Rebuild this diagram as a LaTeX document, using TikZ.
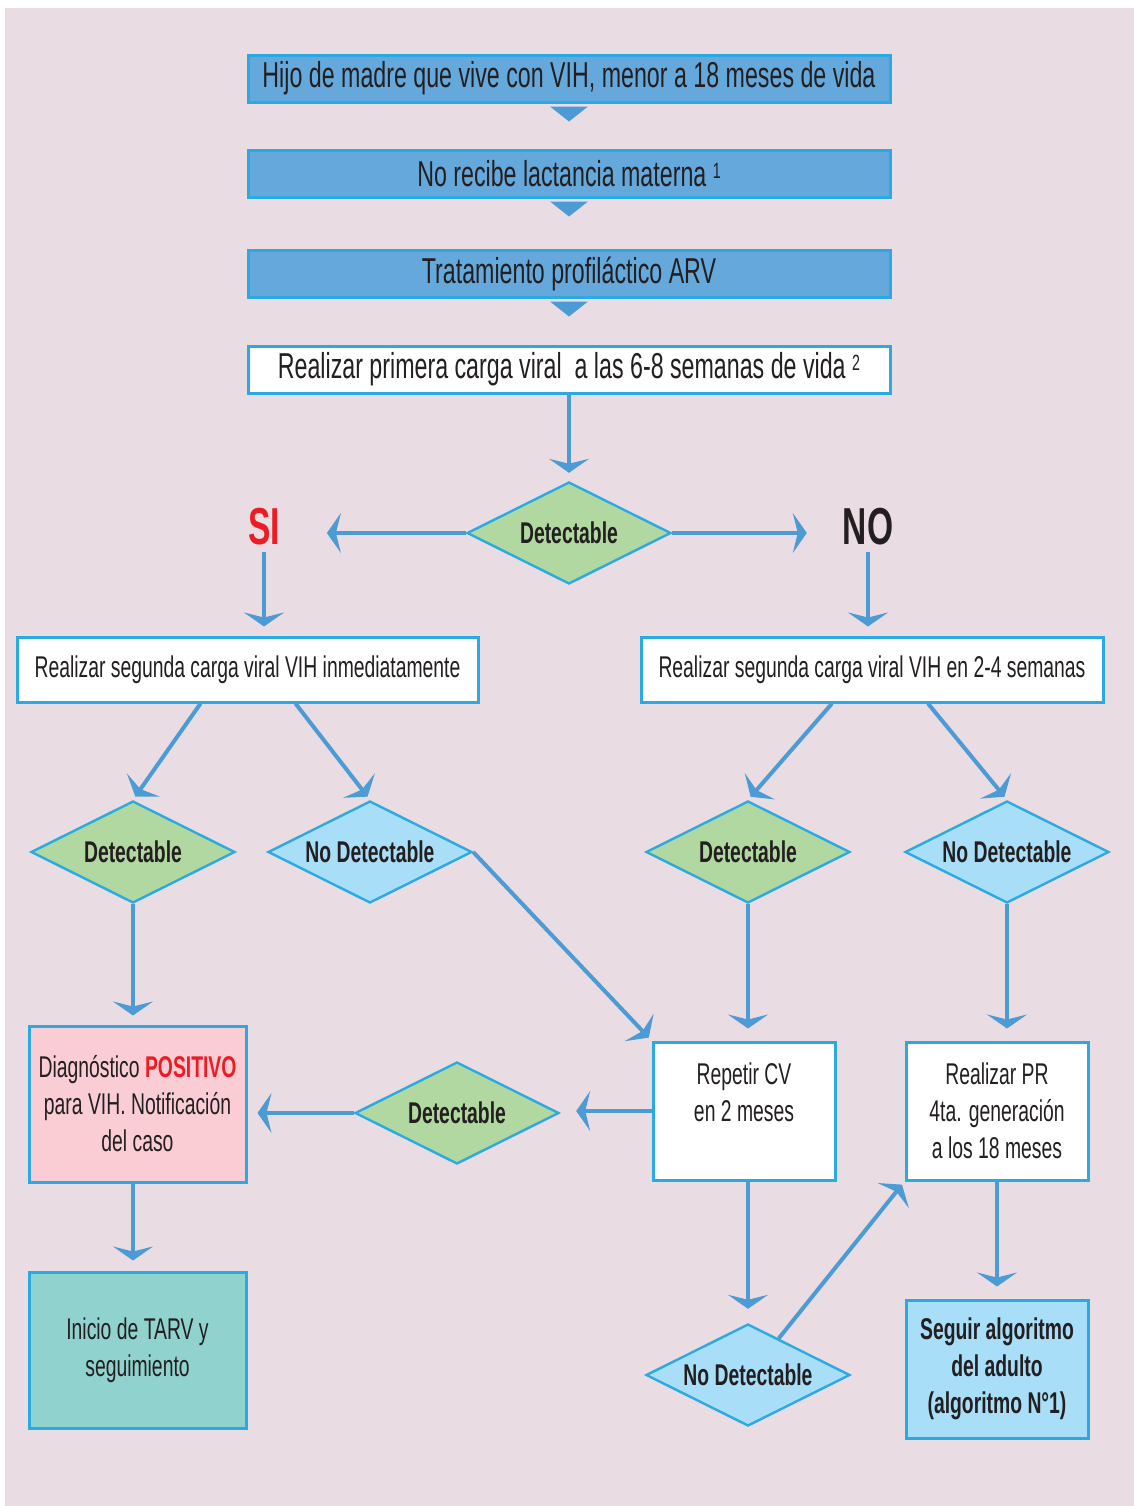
\documentclass[tikz,border=0pt]{standalone}
\usepackage{fontspec}
\setmainfont{Liberation Sans}[FakeStretch=0.645]
\usepackage{tikz}
\usetikzlibrary{arrows.meta, positioning, shapes.geometric, calc}
\definecolor{cbg}{HTML}{E9DCE3}
\definecolor{ctop}{HTML}{65A9DC}
\definecolor{cedge}{HTML}{2BAAE2}
\definecolor{carrow}{HTML}{4D9BD5}
\definecolor{cgreen}{HTML}{B1D8A0}
\definecolor{cblue}{HTML}{A8DEF7}
\definecolor{cpink}{HTML}{F9CDD3}
\definecolor{cteal}{HTML}{8FD2CE}
\definecolor{cred}{HTML}{ED1C24}
\definecolor{ctext}{HTML}{231F20}

\begin{document}
\begin{tikzpicture}[
    x=0.5pt, y=-0.5pt,
    font=\fontsize{15}{18.5}\selectfont,
    box/.style={rectangle, draw=cedge, line width=1.5pt, align=center,
                inner sep=0pt, text=ctext},
    topbox/.style={box, fill=ctop, minimum width=321pt, minimum height=23.5pt,
                   font=\fontsize{18}{20}\selectfont},
    smallbox/.style={box, minimum width=91pt, minimum height=69pt},
    sidebox/.style={box, minimum width=108.5pt, minimum height=78pt},
    decide/.style={diamond, draw=cedge, line width=1.2pt, aspect=2, inner sep=0pt,
                   minimum width=102pt, minimum height=51pt, text=ctext,
                   font=\bfseries\fontsize{15}{18}\selectfont},
    answer/.style={font=\bfseries\fontsize{26}{28}\selectfont},
    flow/.style={draw=carrow, line width=2pt,
                 -{Stealth[length=7pt, width=20pt, inset=2.5pt]}},
]
\useasboundingbox (0,0) rectangle (1134,1506);
\fill[cbg] (5,8) rectangle (1134,1506);

\node[topbox] (b1) at (569,78.5) {Hijo de madre que vive con VIH, menor a 18 meses de vida};
\node[topbox] (b2) at (569,173.5) {No recibe lactancia materna {\fontsize{11}{11}\selectfont\raisebox{4pt}{1}}};
\node[topbox] (b3) at (569,273.5) {Tratamiento profiláctico ARV};
\node[topbox, fill=white] (b4) at (569,369.5)
    {Realizar primera carga viral\ \ a las 6-8 semanas de vida {\fontsize{11}{11}\selectfont\raisebox{4pt}{2}}};

\foreach \n in {b1,b2,b3}
    \fill[carrow] ($(\n.south)+(-19,3)$) -- ++(38,0) -- ++(-19,15) -- cycle;

\node[decide, fill=cgreen] (d1) at (569,533) {Detectable};
\node[answer, text=cred] (si) at (264,527) {SI};
\node[answer, text=ctext] (no) at (868,527) {NO};

\node[box, fill=white, minimum width=230.5pt, minimum height=32.5pt] (b5) at (247.5,669.5)
    {Realizar segunda carga viral VIH inmediatamente};
\node[box, fill=white, minimum width=231pt, minimum height=32.5pt] (b6) at (872,669.5)
    {Realizar segunda carga viral VIH en 2-4 semanas};

\node[decide, fill=cgreen] (dl) at (133,852) {Detectable};
\node[decide, fill=cblue] (nl) at (370,852) {No Detectable};
\node[decide, fill=cgreen] (dr) at (748,852) {Detectable};
\node[decide, fill=cblue] (nr) at (1007,852) {No Detectable};

\node[sidebox, fill=cpink] (pos) at (137.5,1104)
    {Diagnóstico \textcolor{cred}{\bfseries POSITIVO}\\para VIH. Notificación\\del caso};
\node[sidebox, fill=cteal] (tarv) at (137.5,1350) {Inicio de TARV y\\seguimiento};
\node[decide, fill=cgreen] (dm) at (457,1113) {Detectable};
\node[smallbox, fill=white] (rep) at (744,1111) {Repetir CV\\en 2 meses\\\mbox{}};
\node[smallbox, fill=white] (pr) at (997,1111) {Realizar PR\\4ta. generación\\a los 18 meses};
\node[decide, fill=cblue] (nb) at (748,1375) {No Detectable};
\node[smallbox, fill=cblue, font=\bfseries\fontsize{15}{18.5}\selectfont] (adul) at (997,1369)
    {Seguir algoritmo\\del adulto\\(algoritmo N°1)};

\draw[flow, shorten >=4pt] (b4) -- (d1);
\draw[flow, shorten >=20pt] (d1.west) -- (d1.west -| si.east);
\draw[flow, shorten >=14.5pt] (d1.east) -- (d1.east -| no.west);
\draw[flow, shorten >=4.5pt] (si.south) -- (si.south |- b5.north);
\draw[flow, shorten >=4.5pt] (no.south) -- (no.south |- b6.north);
\draw[flow, shorten >=2pt] ($(b5.south)+(-47,0)$) -- (dl.north);
\draw[flow, shorten >=2pt] ($(b5.south)+(48,0)$) -- (nl.north);
\draw[flow, shorten >=2pt] ($(b6.south)+(-40,0)$) -- (dr.north);
\draw[flow, shorten >=2pt] ($(b6.south)+(56,0)$) -- (nr.north);
\draw[flow, shorten >=4.5pt] (dl.south) -- (dl.south |- pos.north);
\draw[flow, shorten >=2pt] (nl.east) -- (rep.north west);
\draw[flow, shorten >=6pt] (dr.south) -- (dr.south |- rep.north);
\draw[flow, shorten >=6pt] (nr.south) -- (nr.south |- pr.north);
\draw[flow, shorten >=8pt] (rep.west) -- (rep.west -| dm.east);
\draw[flow, shorten >=5pt] (dm.west) -- (dm.west -| pos.east);
\draw[flow, shorten >=5pt] (dl.south |- pos.south) -- (dl.south |- tarv.north);
\draw[flow, shorten >=7pt] (nb.north |- rep.south) -- (nb.north);
\draw[flow, shorten >=2pt] (nb.50) -- (pr.south west);
\draw[flow, shorten >=6pt] (pr.south) -- (adul.north);
\end{tikzpicture}
\end{document}
